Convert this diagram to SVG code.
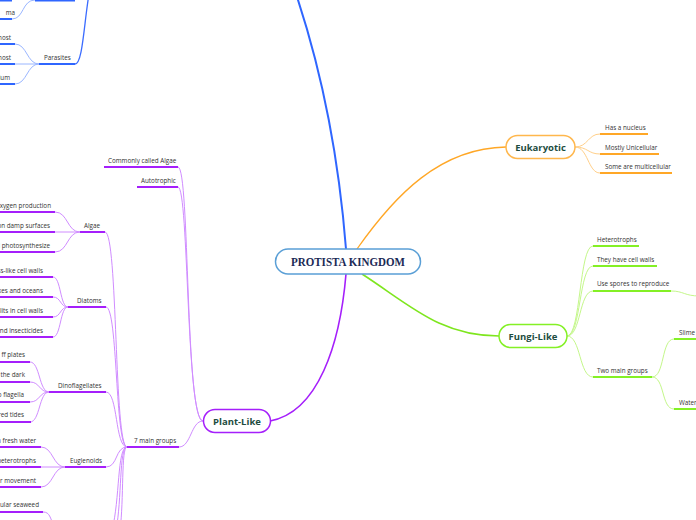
<svg xmlns="http://www.w3.org/2000/svg" width="696" height="520" viewBox="0 0 696 520">
<style>
.t{font-family:"Open Sans","Noto Sans","Liberation Sans",sans-serif;font-size:6.3px;fill:#333}
.e{text-anchor:end}
.n{font-family:"Open Sans","Noto Sans","Liberation Sans",sans-serif;font-size:9.5px;font-weight:bold;fill:#1e4d3f;text-anchor:middle}
.c{fill:none}
.bl{stroke:#9ab6ff;stroke-width:1}
.bu{stroke:#2f66ff;stroke-width:2}
.ol{stroke:#ffd08a;stroke-width:1}
.ou{stroke:#ffa726;stroke-width:2}
.gl{stroke:#c4f78a;stroke-width:1}
.gu{stroke:#84f025;stroke-width:2}
.pl{stroke:#d08cff;stroke-width:1}
.pu{stroke:#a51ffb;stroke-width:2}
</style>
<rect width="696" height="520" fill="#fff"/>
<g id="connectors" class="c">
  <path d="M346,249 C339,160 322,70 294,-12" stroke="#2f66ff" stroke-width="2"/>
  <path d="M357,249 C395,195 440,148 506,147" stroke="#ffa726" stroke-width="1.3"/>
  <path d="M362,274 C410,305 440,336 499,336" stroke="#7ee61e" stroke-width="1.6"/>
  <path d="M346,274 C340,345 318,412 270,421" stroke="#a51ffb" stroke-width="1.6"/>
  <path d="M75,64 C83,64 84,20 90,-12" stroke="#3b6cff" stroke-width="1.3"/>
  <path d="M12,19 C24,19 22,0 35,0" class="bl"/>
  <path d="M15,44 C27,44 27,64 39,64" class="bl"/>
  <path d="M15,64 L39,64" class="bl"/>
  <path d="M15,84 C27,84 27,64 39,64" class="bl"/>
  <path d="M0,0.5 H12 M35,0.5 H75" class="bu"/>
  <path d="M0,19 H12" class="bu"/>
  <path d="M39,64 H75" class="bu"/>
  <path d="M0,44 H15 M0,64 H15 M0,84 H15" class="bu"/>
  <path d="M575,147 C588,147 588,134 600,134" class="ol"/>
  <path d="M575,147 C588,147 588,154 600,154" class="ol"/>
  <path d="M575,147 C588,147 588,173 600,173" class="ol"/>
  <path d="M600,134 H648 M600,154 H659 M600,173 H672" class="ou"/>
  <path d="M567,336 C581,336 579,246 593,246" class="gl"/>
  <path d="M567,336 C581,336 579,266 593,266" class="gl"/>
  <path d="M567,336 C581,336 579,291 593,291" class="gl"/>
  <path d="M567,336 C581,336 579,377 593,377" class="gl"/>
  <path d="M671,291 C684,291 684,296 700,296" class="gl"/>
  <path d="M652,377 C665,377 661,339 674,339" class="gl"/>
  <path d="M652,377 C665,377 661,409 674,409" class="gl"/>
  <path d="M593,246 H639 M593,266 H657 M593,291 H671 M593,377 H652" class="gu"/>
  <path d="M674,339 H700 M674,409 H700" class="gu"/>
  <path d="M178,167 C190,167 185,421 203,421" class="pl" stroke="#b44dff"/>
  <path d="M178,187 C189,187 186,421 203,421" class="pl" stroke="#b44dff"/>
  <path d="M179,447 C191,447 191,421 203,421" class="pl"/>
  <path d="M105,232 C118,232 114,447 127,447" class="pl"/>
  <path d="M106,307 C118,307 115,447 127,447" class="pl"/>
  <path d="M106,392 C118,392 115,447 127,447" class="pl"/>
  <path d="M106,467 C118,467 115,447 127,447" class="pl"/>
  <path d="M127,447 C117,447 120,500 112,530" class="pl"/>
  <path d="M127,447 C119,447 122,500 116,530" class="pl"/>
  <path d="M127,447 C121,447 124,500 120,530" class="pl"/>
  <path d="M55,212 C68,212 67,232 80,232 M55,232 H80 M55,252 C68,252 67,232 80,232" class="pl"/>
  <path d="M53,277 C61,277 60,307 68,307 M53,297 C61,297 60,307 68,307 M53,317 C61,317 60,307 68,307 M53,337 C61,337 60,307 68,307" class="pl"/>
  <path d="M30,362 C40,362 39,392 49,392 M30,382 C40,382 39,392 49,392 M30,402 C40,402 39,392 49,392 M30,422 C40,422 39,392 49,392" class="pl"/>
  <path d="M41,447 C53,447 53,467 65,467 M41,467 H65 M41,487 C53,487 53,467 65,467" class="pl"/>
  <path d="M43,512 C50,512 50,518 54,526" class="pl"/>
  <path d="M104,167 H178 M137,187 H178 M127,447 H179" class="pu"/>
  <path d="M80,232 H105 M68,307 H106 M49,392 H106 M65,467 H106" class="pu"/>
  <path d="M0,212 H55 M0,232 H55 M0,252 H55" class="pu"/>
  <path d="M0,277 H53 M0,297 H53 M0,317 H53 M0,337 H53" class="pu"/>
  <path d="M0,362 H30 M0,382 H30 M0,402 H30 M0,422 H31" class="pu"/>
  <path d="M0,447 H41 M0,467 H41 M0,487 H41 M0,512 H43" class="pu"/>
</g>
<g id="root">
  <rect x="275.5" y="249" width="145" height="25" rx="12.5" fill="#fff" stroke="#5a9fd6" stroke-width="1.5"/>
  <text x="348" y="265.5" font-family="'Liberation Serif','DejaVu Serif',serif" font-size="11.5" font-weight="bold" fill="#1b2a56" text-anchor="middle" textLength="114" lengthAdjust="spacingAndGlyphs">PROTISTA KINGDOM</text>
</g>
<g id="eukaryotic">
  <rect x="506" y="135.5" width="69" height="23" rx="11.5" fill="#fff" stroke="#ffb74d" stroke-width="1.5"/>
  <text x="540.5" y="150.5" class="n">Eukaryotic</text>
</g>
<g id="eukaryotic-children">
  <text x="605" y="129.5" class="t">Has a nucleus</text>
  <text x="605" y="149.5" class="t">Mostly Unicellular</text>
  <text x="605" y="169" class="t">Some are multicellular</text>
</g>
<g id="fungi-like">
  <rect x="499" y="324.5" width="68" height="23" rx="11.5" fill="#fff" stroke="#84f025" stroke-width="1.5"/>
  <text x="533" y="339.5" class="n">Fungi-Like</text>
</g>
<g id="fungi-children">
  <text x="597" y="241.5" class="t">Heterotrophs</text>
  <text x="597" y="261.5" class="t">They have cell walls</text>
  <text x="597" y="286" class="t">Use spores to reproduce</text>
  <text x="597" y="372.5" class="t">Two main groups</text>
  <text x="679" y="335" class="t">Slime</text>
  <text x="679" y="404.5" class="t">Water</text>
</g>
<g id="plant-like">
  <rect x="203.5" y="409.5" width="67" height="23" rx="11.5" fill="#fff" stroke="#a51ffb" stroke-width="1.5"/>
  <text x="237" y="424.5" class="n">Plant-Like</text>
</g>
<g id="plant-children">
  <text x="108" y="162.5" class="t">Commonly called Algae</text>
  <text x="141" y="182.5" class="t">Autotrophic</text>
  <text x="134" y="442.5" class="t">7 main groups</text>
  <text x="84" y="227.5" class="t">Algae</text>
  <text x="77" y="302.5" class="t">Diatoms</text>
  <text x="58" y="387.5" class="t">Dinoflagellates</text>
  <text x="70" y="462.5" class="t">Euglenoids</text>
  <text x="51" y="207.5" class="t e">oxygen production</text>
  <text x="50" y="227.5" class="t e">on damp surfaces</text>
  <text x="50" y="247.5" class="t e">d photosynthesize</text>
  <text x="43" y="272.5" class="t e">ss-like cell walls</text>
  <text x="43" y="292.5" class="t e">kes and oceans</text>
  <text x="43" y="312.5" class="t e">slits in cell walls</text>
  <text x="43" y="332.5" class="t e">and insecticides</text>
  <text x="25" y="357" class="t e">ff plates</text>
  <text x="25" y="377" class="t e">the dark</text>
  <text x="24" y="397" class="t e">o flagella</text>
  <text x="24" y="417" class="t e">red tides</text>
  <text x="36" y="442.5" class="t e">n fresh water</text>
  <text x="36" y="462.5" class="t e">heterotrophs</text>
  <text x="36" y="482.5" class="t e">r movement</text>
  <text x="39" y="506.5" class="t e">ular seaweed</text>
</g>
<g id="animal-like-children">
  <text x="15" y="14.5" class="t e">ma</text>
  <text x="44" y="59.5" class="t">Parasites</text>
  <text x="11" y="39.5" class="t e">nost</text>
  <text x="11" y="59.5" class="t e">nost</text>
  <text x="10" y="79.5" class="t e">lium</text>
</g>
</svg>
